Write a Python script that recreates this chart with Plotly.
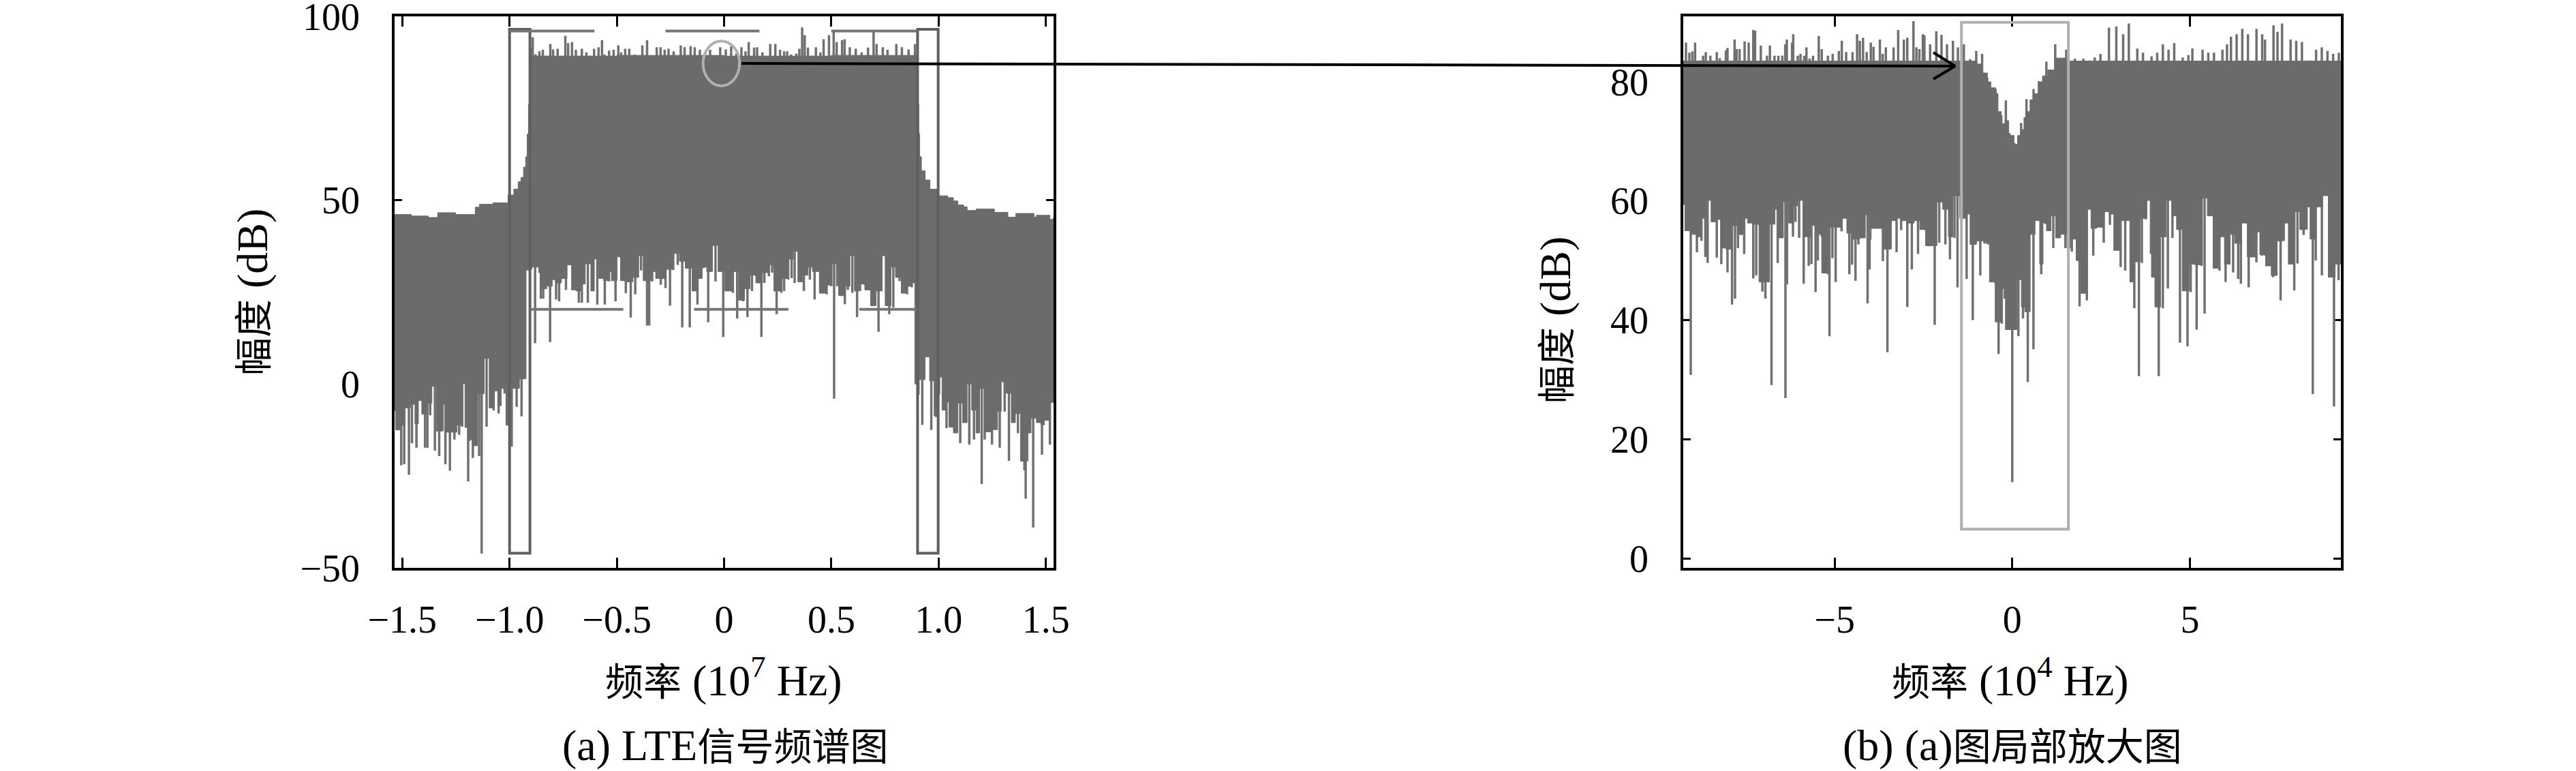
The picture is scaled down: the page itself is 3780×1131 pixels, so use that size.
import plotly.graph_objects as go

# ---------- panel (a): LTE spectrum ----------
a_band_f = [-1.536,-1.47,-1.458,-1.379,-1.335,-1.271,-1.252,-1.192,-1.16,-1.14,-1.087,-1.077,-1.023,-1.007,-0.98,-0.96,-0.947,-0.935,-0.925,-0.918,-0.912,-0.907,-0.902,
            -0.5,0.0,0.5,0.898,0.902,0.905,0.908,0.912,0.92,0.937,0.96,0.998,1.043,1.069,1.09,1.117,1.133,1.17,1.175,1.233,1.26,1.292,1.323,1.345,1.36,1.424,1.445,1.456,1.493,1.519,1.536]
a_band_top = [46.1,46.1,45.7,45.3,46.6,46.6,46.1,46.1,48.1,48.9,48.9,49.3,49.3,51.4,53.0,55.0,56.2,59.0,61.8,68.0,76.0,82.0,89.2,
              89.4,89.2,89.4,89.2,82.0,76.0,68.0,61.8,58.0,55.5,53.0,51.2,50.7,49.8,48.7,48.2,47.2,47.2,47.6,47.6,46.7,46.7,45.4,45.4,46.4,46.4,45.4,45.9,45.9,44.8,45.4]
a_low_f = [-1.536,-1.531,-1.510,-1.489,-1.462,-1.441,-1.425,-1.409,-1.388,-1.362,-1.341,-1.314,-1.293,-1.266,-1.245,-1.219,-1.208,-1.192,-1.171,-1.150,-1.118,-1.095,-1.076,-1.055,-1.039,-1.017,-0.996,-0.980,-0.954,-0.927,
           -0.906,-0.896,-0.864,-0.854,-0.827,-0.801,-0.785,-0.758,-0.732,-0.711,-0.690,-0.668,-0.647,-0.621,-0.605,-0.584,-0.562,-0.541,-0.525,-0.499,-0.483,-0.462,-0.425,-0.398,-0.377,-0.340,-0.319,-0.292,-0.271,-0.239,-0.208,-0.181,-0.149,-0.123,-0.102,-0.081,-0.054,-0.028,0.004,
           0.036,0.068,0.095,0.121,0.148,0.179,0.211,0.232,0.264,0.296,0.322,0.344,0.365,0.391,0.412,0.444,0.476,0.502,0.534,0.561,0.587,0.608,0.630,0.656,0.683,0.709,0.736,0.751,0.778,0.799,0.826,0.852,0.873,0.889,
           0.905,0.910,0.937,0.958,0.979,0.995,1.016,1.032,1.048,1.069,1.090,1.112,1.133,1.154,1.175,1.191,1.217,1.244,1.270,1.292,1.315,1.339,1.358,1.382,1.403,1.424,1.456,1.477,1.493,1.514,1.536]
a_low_db = [-5.0,-7.2,-12.5,-11.2,-6.5,-5.5,-10.8,-4.5,-8.2,-5.2,-0.6,-12.8,-5.5,-13.1,-13.1,-11.2,0.1,-11.8,-15.1,-16.8,-2.6,7.0,-6.5,-1.9,-5.9,-1.2,-11.2,-1.2,-1.2,1.4,
            31.0,31.2,31.8,30.3,25.9,26.6,28.4,27.5,28.7,32.4,25.6,25.3,27.2,32.7,25.3,34.0,28.7,28.1,30.6,28.1,34.6,28.1,27.8,29.0,34.9,28.1,30.6,28.7,28.7,31.2,35.5,33.4,31.5,25.3,28.7,31.8,30.6,37.7,30.6,
            25.3,30.6,22.8,25.9,29.6,27.5,30.3,32.4,25.3,28.7,34.0,36.1,27.8,29.6,31.8,30.6,24.7,26.9,32.7,24.1,26.6,34.9,25.3,27.2,25.6,21.3,25.3,34.9,21.3,31.8,29.0,24.7,26.6,27.5,
            0.0,-2.8,1.2,7.4,0.9,-8.6,1.9,-7.1,-4.9,-11.7,-13.3,-5.2,-10.5,0.0,-7.1,-13.3,-1.2,-13.0,-12.4,-7.4,0.6,-2.5,-10.5,-8.0,-21.0,-13.3,-9.3,-10.5,-11.1,-9.9,-5.0]

a_peak_f = [-0.898,-0.892,-0.879,-0.861,-0.845,-0.831,-0.810,-0.797,-0.776,-0.758,-0.740,-0.727,-0.709,-0.691,-0.679,-0.663,-0.642,-0.624,-0.606,-0.585,-0.569,-0.557,-0.536,-0.515,-0.493,-0.480,-0.461,-0.442,-0.417,-0.381,-0.359,-0.342,-0.314,-0.296,-0.277,-0.259,-0.235,-0.202,-0.184,-0.156,-0.137,-0.113,-0.089,-0.065,-0.018,0.008,0.033,0.057,0.081,0.100,0.115,0.140,0.154,0.179,0.215,0.239,0.261,0.280,0.294,0.312,0.337,0.351,0.364,0.376,0.391,0.410,0.428,0.449,0.464,0.489,0.511,0.525,0.550,0.562,0.586,0.614,0.641,0.671,0.697,0.711,0.740,0.762,0.803,0.829,0.860,0.890]
a_peak_db = [91.5,94.3,89.7,90.5,90.9,89.3,92.5,91.0,91.2,89.3,94.7,92.7,93.0,90.9,89.3,91.2,90.2,89.3,91.2,91.6,93.5,89.6,90.7,90.9,92.1,90.2,91.2,91.2,89.6,92.1,93.5,89.3,91.6,91.6,90.9,91.2,90.5,92.1,91.6,91.9,91.6,90.9,89.9,90.9,91.6,91.0,91.8,89.9,91.6,90.5,93.0,91.5,91.6,90.2,92.5,92.5,90.9,90.5,90.5,89.6,89.9,91.2,97.0,94.9,91.5,89.3,91.6,90.2,93.8,94.9,96.1,93.0,93.5,93.8,91.6,91.2,90.2,91.5,95.8,92.5,91.6,90.9,92.5,91.6,91.0,92.5]

a_dip_f = [-1.515,-1.505,-1.491,-1.469,-1.455,-1.434,-1.404,-1.394,-1.383,-1.370,-1.348,-1.328,-1.313,-1.299,-1.278,-1.257,-1.235,-1.221,-1.193,-1.187,-1.171,-1.142,-1.130,-1.107,-1.074,-1.051,-1.023,-0.990,-0.967,-0.944,-0.927,
           -0.881,-0.854,-0.843,-0.811,-0.783,-0.769,-0.737,-0.703,-0.677,-0.663,-0.635,-0.591,-0.556,-0.536,-0.506,-0.480,-0.458,-0.435,-0.414,-0.387,-0.359,-0.349,-0.335,-0.295,-0.273,-0.252,-0.237,-0.216,-0.195,-0.160,-0.142,-0.124,-0.096,-0.074,-0.040,-0.004,0.010,
           0.041,0.061,0.089,0.109,0.130,0.151,0.174,0.188,0.209,0.224,0.245,0.267,0.280,0.299,0.315,0.329,0.359,0.372,0.400,0.422,0.456,0.478,0.500,0.513,0.527,0.549,0.563,0.577,0.598,0.620,0.634,0.655,0.677,0.701,0.720,0.733,0.770,0.789,0.818,0.831,0.853,0.875,
           0.924,0.966,0.988,1.002,1.037,1.045,1.059,1.072,1.101,1.122,1.143,1.165,1.187,1.201,1.215,1.249,1.271,1.285,1.308,1.328,1.350,1.370,1.400,1.406,1.413,1.427,1.441,1.454,1.482,1.498,1.519]
a_dip_db = [-12.5,-22.1,-21.8,-24.7,-16.1,-17.3,-7.9,-17.3,-17.3,-8.5,-18.1,-19.6,-12.8,-21.8,-23.6,-15.1,-13.8,-11.6,-26.5,-15.5,-20.1,-19.6,-46.1,-11.6,-7.2,-8.0,-2.6,-17.0,-6.2,-8.8,1.4,
            11.1,23.2,23.2,11.4,23.0,22.5,25.6,32.4,22.1,22.1,22.1,21.6,21.6,27.9,22.5,34.6,24.7,18.1,24.4,30.9,15.9,15.9,27.9,27.0,26.1,21.3,31.0,32.4,15.4,15.4,31.5,21.6,31.5,16.8,27.9,12.8,25.3,
            24.8,17.8,22.5,18.2,25.3,29.3,12.8,27.5,29.3,30.3,19.0,24.8,25.3,28.4,28.8,27.5,34.1,25.3,28.4,23.0,30.3,24.4,26.6,-4.0,26.6,23.9,21.7,25.6,24.8,18.2,25.3,27.0,25.6,21.2,14.2,25.3,19.0,20.8,28.0,30.6,24.4,26.3,
            -11.1,-12.5,-9.0,-2.8,-12.0,-4.9,-4.0,-12.0,-16.1,-5.4,-16.5,-15.1,-13.3,-27.2,-15.1,-16.5,-12.5,-17.3,-7.5,-20.9,-8.0,-13.4,-23.5,-31.2,-21.0,-13.4,-39.0,-9.3,-19.2,-9.9,-16.5]
a_spike_root_high = 60
a_spike_root_low = 40

# ---------- panel (b): zoom ----------
b_band_f = [-9.26,-3.0,-1.0,-0.85,-0.7,-0.6,-0.47,-0.4,-0.31,-0.2,-0.1,0.05,0.15,0.25,0.33,0.4,0.5,0.6,0.75,0.85,1.0,1.2,1.5,5.0,9.26]
b_band_top = [83.5,83.5,83.0,81.5,80.0,79.0,78.0,75.0,73.0,73.5,71.0,69.5,71.0,72.0,74.0,75.0,77.0,78.0,80.0,81.0,82.0,84.0,83.5,83.5,83.5]
b_low_f = [-9.26,-9.216,-9.056,-8.895,-8.767,-8.638,-8.478,-8.349,-8.189,-8.060,-7.900,-7.739,-7.578,-7.450,-7.289,-7.129,-6.968,-6.840,-6.679,-6.583,-6.454,-6.294,-6.165,-6.037,-5.876,-5.684,-5.523,-5.363,-5.202,-5.009,-4.817,-4.656,-4.496,-4.303,-4.143,-3.982,-3.757,-3.629,-3.436,-3.275,-3.115,-2.954,-2.761,-2.601,-2.440,-2.280,-2.119,-1.959,-1.798,-1.670,-1.477,-1.316,-1.188,-1.028,-0.803,-0.642,-0.481,-0.321,-0.192,-0.032,
           0.128,0.257,0.353,0.482,0.642,0.771,0.867,0.963,1.092,1.220,1.349,1.541,1.638,1.798,1.927,2.087,2.216,2.376,2.569,2.730,2.858,3.019,3.147,3.308,3.436,3.597,3.789,3.918,4.014,4.175,4.335,4.496,4.624,4.785,4.978,5.138,5.331,5.491,5.652,5.812,5.973,6.134,6.262,6.455,6.615,6.840,6.968,7.129,7.290,7.450,7.611,7.771,7.932,8.092,8.253,8.382,8.542,8.735,8.895,9.088,9.25]
b_low_db = [60.0,59.4,55.0,54.4,54.0,57.1,60.1,56.5,56.9,52.1,51.9,55.9,54.4,57.1,56.3,56.1,46.4,46.4,56.1,58.6,53.8,59.9,56.3,59.2,60.1,54.0,55.9,54.4,47.9,55.6,55.6,57.1,54.6,53.6,53.8,57.7,55.4,55.4,51.9,56.7,57.1,56.7,56.3,56.7,55.2,52.5,52.5,59.8,58.6,54.0,60.9,57.1,57.8,52.7,53.3,52.9,46.4,39.7,45.3,38.4,
            38.4,46.8,42.2,41.4,54.4,56.7,49.4,56.3,55.0,57.5,53.8,54.4,52.1,53.6,50.0,44.5,58.6,55.4,55.6,58.2,57.8,51.7,56.7,56.7,46.4,49.8,57.1,60.1,47.2,42.2,54.0,60.1,57.5,55.2,44.9,49.4,49.3,60.5,57.5,48.7,54.0,49.4,54.4,52.9,56.3,50.6,54.8,51.0,49.1,47.5,53.3,56.3,49.4,58.2,55.2,59.0,53.6,59.0,60.9,47.2,49.4]

b_peak_f = [-9.184,-9.088,-9.004,-8.927,-8.799,-8.702,-8.625,-8.497,-8.317,-8.233,-8.060,-8.015,-7.816,-7.758,-7.675,-7.533,-7.418,-7.289,-7.238,-7.077,-6.988,-6.904,-6.821,-6.692,-6.583,-6.474,-6.390,-6.345,-6.198,-6.165,-6.037,-5.960,-5.857,-5.793,-5.703,-5.607,-5.446,-5.363,-5.189,-5.054,-4.881,-4.798,-4.675,-4.496,-4.367,-4.290,-4.200,-4.097,-3.982,-3.905,-3.725,-3.648,-3.558,-3.340,-3.211,-3.051,-2.954,-2.781,-2.697,-2.614,-2.517,-2.472,-2.312,-2.139,-1.991,-1.837,-1.670,-1.529,-1.362,-1.188,-1.014,-0.848,-0.706,-0.47,-0.31,-0.18,-0.08,0.06,0.25,0.40,0.60,0.75,0.96,1.21,1.52,
            1.763,2.003,2.163,2.322,2.482,2.722,2.929,3.121,3.281,3.520,3.680,3.920,4.080,4.239,4.399,4.559,4.798,4.958,5.070,5.357,5.517,5.677,5.916,6.044,6.156,6.316,6.475,6.635,6.875,7.035,7.114,7.354,7.466,7.594,7.834,7.993,8.153,8.392,8.552,8.712,8.872,9.032,9.192]
b_peak_db = [86.6,84.9,85.1,86.6,83.6,84.4,85.0,84.4,85.0,84.0,85.3,85.7,87.1,85.5,85.5,86.8,86.6,88.7,88.6,86.1,83.6,84.4,86.1,84.4,84.4,84.4,86.3,87.1,86.6,88.0,84.4,84.7,84.4,85.8,83.9,84.4,87.7,85.5,84.4,84.7,85.2,86.9,85.0,85.0,88.0,86.9,87.4,85.0,86.6,85.9,87.1,84.7,85.8,85.8,88.7,87.1,87.4,90.2,85.8,85.5,88.0,87.8,86.3,88.5,87.9,86.3,86.9,85.8,86.3,83.8,85.2,84.7,80.7,78.8,74.4,76.9,71.4,69.7,73.1,77.1,78.8,80.1,83.4,86.3,85.4,
             83.9,83.9,83.6,84.1,84.7,89.1,89.3,88.0,89.8,85.6,84.9,84.3,84.9,86.3,85.4,86.5,84.1,84.5,85.6,85.4,84.9,84.9,85.4,86.3,87.6,88.0,88.9,88.0,88.9,88.0,87.1,89.5,88.4,89.8,87.1,86.9,86.7,83.6,85.4,85.8,85.2,84.7,84.9]

b_dip_f = [-9.049,-8.959,-8.876,-8.747,-8.638,-8.574,-8.381,-8.317,-8.189,-8.105,-8.015,-7.887,-7.803,-7.720,-7.630,-7.546,-7.373,-7.289,-7.206,-7.116,-7.033,-6.949,-6.859,-6.776,-6.602,-6.467,-6.384,-6.339,-6.172,-6.101,-5.999,-5.870,-5.729,-5.652,-5.536,-5.472,-5.363,-5.266,-5.189,-5.144,-5.061,-4.971,-4.804,-4.585,-4.508,-4.412,-4.329,-4.162,-4.072,-4.014,-3.995,-3.641,-3.513,-3.423,-3.256,-3.128,-2.954,-2.826,-2.652,-2.440,-2.350,-2.183,-2.055,-1.882,-1.753,-1.625,-1.541,-1.284,-1.111,-1.028,-0.899,-0.674,-0.469,-0.385,-0.295,-0.212,0.0,
           0.173,0.302,0.437,0.482,0.597,0.816,0.963,1.156,1.336,1.496,1.676,1.766,1.895,2.100,2.280,2.575,2.749,3.051,3.179,3.308,3.436,3.565,3.648,3.757,3.905,4.123,4.239,4.380,4.509,4.721,4.933,5.022,5.190,5.331,5.414,5.748,5.832,6.005,6.101,6.217,6.358,6.435,6.654,6.872,7.033,7.129,7.258,7.341,7.431,7.553,7.643,7.803,7.938,8.028,8.202,8.285,8.459,8.542,8.715,8.960,9.056,9.184]
b_dip_db = [30.8,54.9,51.4,53.3,50.6,49.6,56.5,50.5,49.4,56.9,48.0,42.6,43.6,52.1,54.3,51.1,57.1,47.0,47.5,55.9,44.8,43.6,46.4,29.1,49.6,53.8,26.9,46.0,54.0,56.5,53.8,46.1,49.1,49.4,44.7,50.0,54.0,54.2,47.7,37.3,50.4,46.4,54.9,47.7,49.3,46.6,52.7,53.8,42.8,48.5,53.5,49.9,34.6,51.9,51.4,55.1,42.2,48.5,51.1,55.1,52.4,39.2,53.0,52.7,50.2,53.8,45.5,46.9,40.0,52.7,47.5,52.7,46.1,34.3,39.4,43.6,12.8,
            37.3,40.3,29.6,41.4,35.1,47.7,56.1,52.1,53.8,52.1,51.5,53.6,42.3,43.3,50.8,53.0,56.0,48.9,48.3,56.7,42.0,30.6,49.6,56.9,51.1,30.6,42.0,45.3,53.8,36.2,35.6,44.7,38.4,49.1,41.1,48.8,48.3,46.4,49.4,48.0,46.9,46.1,45.5,49.7,50.8,50.8,49.1,47.2,47.5,43.3,53.3,56.2,45.0,49.5,54.3,55.2,27.6,50.0,47.5,54.3,25.5,46.7]
b_spike_root = 62

# ---------- text ----------
a_x_ticks = [-1.5,-1.0,-0.5,0,0.5,1.0,1.5]
a_x_labels = ["−1.5","−1.0","−0.5","0","0.5","1.0","1.5"]
a_y_ticks = [-50,0,50,100]
a_y_labels = ["−50","0","50","100"]
b_x_ticks = [-5,0,5]
b_x_labels = ["−5","0","5"]
b_y_ticks = [0,20,40,60,80]
b_y_labels = ["0","20","40","60","80"]

W, H = 3780, 1131
GRAY_BODY, GRAY_SPIKE = "#6b6b6b", "#707070"
FONT = "Liberation Serif, Noto Sans CJK SC, serif"


def px(x): return x / W
def py(y): return 1 - y / H


def spikes(f, db, root):
    xs, ys = [], []
    for fi, di in zip(f, db):
        xs += [fi, fi, None]
        ys += [root, di, None]
    return xs, ys


fig = go.Figure()


def panel(xa, ya, band_f, band_top, low_f, low_db, peak_f, peak_db, dip_f, dip_db, root_hi, root_lo):
    x1, y1 = spikes(peak_f, peak_db, root_hi)
    x2, y2 = spikes(dip_f, dip_db, root_lo)
    fig.add_trace(go.Scatter(x=x1 + x2, y=y1 + y2, mode="lines", line=dict(color=GRAY_SPIKE, width=3.5),
                             connectgaps=False, xaxis=xa, yaxis=ya, showlegend=False, hoverinfo="skip"))
    fig.add_trace(go.Scatter(x=band_f + low_f[::-1], y=band_top + low_db[::-1], mode="lines",
                             line=dict(color=GRAY_BODY, width=1, shape="hv"), fill="toself", fillcolor=GRAY_BODY,
                             xaxis=xa, yaxis=ya, showlegend=False, hoverinfo="skip"))


panel("x", "y", a_band_f, a_band_top, a_low_f, a_low_db, a_peak_f, a_peak_db, a_dip_f, a_dip_db, a_spike_root_high, a_spike_root_low)
panel("x2", "y2", b_band_f, b_band_top, b_low_f, b_low_db, b_peak_f, b_peak_db, b_dip_f, b_dip_db, b_spike_root, b_spike_root)

axis_common = dict(showgrid=False, zeroline=False, showline=True, linecolor="black", linewidth=3.5,
                   mirror="ticks", ticks="inside", tickcolor="black", tickwidth=3,
                   tickmode="array", layer="below traces", ticklabeloverflow="allow",
                   tickfont=dict(family=FONT, size=56, color="black"))

fig.update_layout(
    width=W, height=H, margin=dict(l=0, r=0, t=0, b=0, autoexpand=False), paper_bgcolor="white", plot_bgcolor="white",
    showlegend=False,
    xaxis=dict(domain=[px(579), px(1546)], range=[-1.536, 1.536], tickvals=a_x_ticks, ticktext=a_x_labels,
               ticklen=15, ticklabelstandoff=24, anchor="y", **axis_common),
    yaxis=dict(domain=[py(833), py(24)], range=[-50, 100], tickvals=a_y_ticks, ticktext=a_y_labels,
               ticklen=11, ticklabelstandoff=36, anchor="x", **axis_common),
    xaxis2=dict(domain=[px(2470), px(3435)], range=[-9.26, 9.25], tickvals=b_x_ticks, ticktext=b_x_labels,
                ticklen=15, ticklabelstandoff=24, anchor="y2", **axis_common),
    yaxis2=dict(domain=[py(833), py(24)], range=[-1.6, 91], tickvals=b_y_ticks, ticktext=b_y_labels,
                ticklen=11, ticklabelstandoff=36, anchor="x2", **axis_common),
)

# ---------- overlay marks ----------
BOX_A, BOX_B, SEG = "#5f5f5f", "#b0b0b0", "#757575"
a_boxes = [(-1.0, -0.905), (0.902, 0.998)]
a_box_y = (-46, 96.5)
a_top_segments = [(-1.0, -0.604), (-0.273, 0.165), (0.50, 0.90)]
a_top_y = 96
a_low_segments = [(-0.9, -0.47), (-0.14, 0.30), (0.63, 0.9)]
a_low_y = 20.3
ellipse_a = dict(x0=-0.098, x1=0.072, y0=81.1, y1=93.3)
box_b = dict(x0=-1.43, x1=1.58, y0=4.9, y1=90)

for x0, x1 in a_boxes:
    fig.add_shape(type="rect", xref="x", yref="y", x0=x0, x1=x1, y0=a_box_y[0], y1=a_box_y[1],
                  line=dict(color=BOX_A, width=4))
for x0, x1 in a_top_segments:
    fig.add_shape(type="line", xref="x", yref="y", x0=x0, x1=x1, y0=a_top_y, y1=a_top_y, line=dict(color=SEG, width=4))
for x0, x1 in a_low_segments:
    fig.add_shape(type="line", xref="x", yref="y", x0=x0, x1=x1, y0=a_low_y, y1=a_low_y, line=dict(color=SEG, width=4))
fig.add_shape(type="circle", xref="x", yref="y", line=dict(color=BOX_B, width=4), **ellipse_a)
fig.add_shape(type="rect", xref="x2", yref="y2", line=dict(color=BOX_B, width=4), **box_b)

arrow_line = [(1088, 93), (2869, 97)]
arrow_head = [(2837, 77), (2869, 97), (2837, 116)]
fig.add_shape(type="line", xref="paper", yref="paper", x0=px(arrow_line[0][0]), y0=py(arrow_line[0][1]),
              x1=px(arrow_line[1][0]), y1=py(arrow_line[1][1]), line=dict(color="black", width=4))
for i in (0, 2):
    fig.add_shape(type="line", xref="paper", yref="paper", x0=px(arrow_head[i][0]), y0=py(arrow_head[i][1]),
                  x1=px(arrow_head[1][0]), y1=py(arrow_head[1][1]), line=dict(color="black", width=4))


def big(s):
    return f'<span style="font-size:64px">{s}</span>'


labels = [
    ("频率" + big(" (10<sup>7</sup> Hz)"), 1062, 993, 0),
    (big("(a) LTE") + "信号频谱图", 1064, 1093, 0),
    ("频率" + big(" (10<sup>4</sup> Hz)"), 2950, 993, 0),
    (big("(b) (a)") + "图局部放大图", 2953, 1093, 0),
    ("幅度" + big(" (dB)"), 370, 429, -90),
    ("幅度" + big(" (dB)"), 2283, 470, -90),
]
for text, x, y, ang in labels:
    fig.add_annotation(text=text, xref="paper", yref="paper", x=px(x), y=py(y), showarrow=False,
                       xanchor="center", yanchor="middle", textangle=ang,
                       font=dict(family=FONT, size=56, color="black"))

fig.write_html("out.html", config=dict(displayModeBar=False),
               post_script="document.body.style.margin='0';document.body.style.overflow='hidden';")
